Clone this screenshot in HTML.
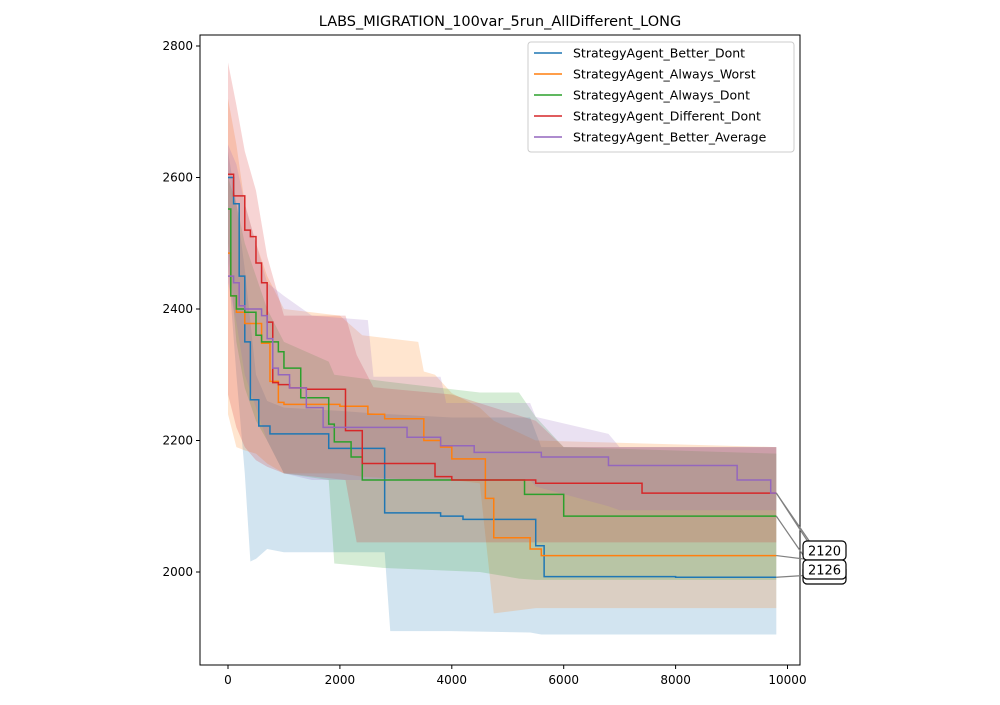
<!DOCTYPE html>
<html><head><meta charset="utf-8"><style>
body{margin:0;background:#fff}
svg text{font-family:"DejaVu Sans","Liberation Sans",sans-serif}
</style></head><body>
<svg id="c" width="1000" height="700" xmlns="http://www.w3.org/2000/svg"></svg>
<script>
const seriesNames=["StrategyAgent_Better_Dont","StrategyAgent_Always_Worst","StrategyAgent_Always_Dont","StrategyAgent_Different_Dont","StrategyAgent_Better_Average"];
const colors=["#1f77b4","#ff7f0e","#2ca02c","#d62728","#9467bd"];
const blueX=[0,100,200,300,400,550,750,1800,2800,3800,4200,5500,5650,8000,9800];
const blueY=[2600,2560,2450,2350,2262,2222,2210,2188,2090,2085,2080,2040,1993,1992,1992];
const orangeX=[0,50,150,300,600,750,900,1000,2000,2500,2800,3500,3800,4000,4600,4750,5400,5600,9800];
const orangeY=[2485,2420,2395,2378,2348,2290,2258,2255,2252,2240,2233,2200,2190,2172,2112,2052,2035,2025,2025];
const greenX=[0,50,150,300,500,600,900,1000,1300,1800,1900,2200,2400,5300,6000,9800];
const greenY=[2552,2420,2400,2395,2360,2350,2335,2310,2265,2225,2198,2175,2140,2118,2085,2085];
const redX=[0,100,300,400,500,600,700,800,900,1100,1400,2100,2400,3700,4000,5500,7400,9800];
const redY=[2605,2572,2520,2510,2470,2440,2380,2288,2285,2280,2278,2215,2165,2145,2140,2135,2120,2120];
const purpleX=[0,100,200,300,600,700,800,900,1100,1400,1700,3200,3800,4400,5600,6800,9100,9700,9800];
const purpleY=[2450,2440,2405,2400,2390,2355,2310,2300,2280,2250,2220,2205,2192,2182,2175,2162,2140,2120,2120];
const blueBandX=[0,150,300,400,500,700,1000,2000,2800,2900,4000,5400,5600,9800];
const blueUp=[2640,2560,2460,2380,2300,2260,2250,2245,2240,2240,2235,2235,2190,2190];
const blueLo=[2470,2300,2150,2016,2020,2035,2030,2030,2030,1910,1910,1908,1905,1905];
const orangeBandX=[0,150,300,500,700,1000,2000,2400,3400,3500,3700,4000,4500,4750,5500,9800];
const orangeUp=[2720,2650,2560,2500,2450,2400,2390,2360,2350,2305,2300,2272,2250,2230,2200,2190];
const orangeLo=[2240,2190,2185,2180,2165,2150,2150,2145,2140,2140,2140,2140,2135,1937,1945,1945];
const greenBandX=[0,150,300,500,700,1000,1800,1900,2800,4500,5200,5500,6000,9800];
const greenUp=[2600,2560,2500,2450,2400,2350,2320,2300,2290,2273,2273,2236,2190,2180];
const greenLo=[2500,2350,2280,2230,2200,2150,2140,2013,2006,2000,1990,1988,1988,1988];
const redBandX=[0,150,300,500,700,1000,2100,2300,2600,4000,5500,6000,9800];
const redUp=[2775,2710,2640,2580,2480,2390,2390,2330,2281,2270,2230,2190,2190];
const redLo=[2270,2220,2190,2170,2160,2150,2140,2045,2045,2045,2045,2045,2045];
const purpleBandX=[0,150,300,500,700,1000,1500,2500,2600,3800,3900,5400,5500,6800,7000,9800];
const purpleUp=[2650,2620,2560,2500,2440,2420,2390,2383,2297,2297,2257,2257,2236,2210,2190,2190];
const purpleLo=[2440,2380,2300,2250,2200,2150,2140,2140,2140,2140,2140,2140,2130,2100,2094,2094];
const xTicks=[0,2000,4000,6000,8000,10000];
const yTicks=[2000,2200,2400,2600,2800];
const annotations=["","2120","2126"];

const svg=document.getElementById('c');const NS="http://www.w3.org/2000/svg";
function px(x){return 228+x*0.05595;}
function py(y){return 572-(y-2000)*0.6575;}
function mk(tag,attrs,parent){const e=document.createElementNS(NS,tag);for(const k in attrs)e.setAttribute(k,attrs[k]);(parent||svg).appendChild(e);return e;}
function stepPts(X,Y){let p=[];for(let i=0;i<X.length;i++){if(i>0)p.push([px(X[i]),py(Y[i-1])]);p.push([px(X[i]),py(Y[i])]);}return p;}
function linPts(X,Y){return X.map((x,i)=>[px(x),py(Y[i])]);}
const lines=[[blueX,blueY],[orangeX,orangeY],[greenX,greenY],[redX,redY],[purpleX,purpleY]];
const bands=[[blueBandX,blueUp,blueLo],[orangeBandX,orangeUp,orangeLo],[greenBandX,greenUp,greenLo],[redBandX,redUp,redLo],[purpleBandX,purpleUp,purpleLo]];
bands.forEach((b,i)=>{
 const up=linPts(b[0],b[1]),lo=linPts(b[0],b[2]).reverse();
 const el=mk('polygon',{points:up.concat(lo).map(p=>p.join(',')).join(' '),fill:colors[i],'fill-opacity':0.2});
 
 
});
lines.forEach((l,i)=>{
 const el=mk('polyline',{points:stepPts(l[0],l[1]).map(p=>p.join(',')).join(' '),fill:'none',stroke:colors[i],'stroke-width':1.5});
 
 
});
const fr=mk('rect',{x:200,y:35,width:600,height:630,fill:'none',stroke:'#000','stroke-width':1});


xTicks.forEach(t=>{const x=px(t);mk('line',{x1:x,x2:x,y1:665,y2:669,stroke:'#000'});
 const tx=mk('text',{x:x,y:684,'text-anchor':'middle','font-size':12});tx.textContent=t;
 
 });
yTicks.forEach(t=>{const y=py(t);mk('line',{x1:196,x2:200,y1:y,y2:y,stroke:'#000'});
 const tx=mk('text',{x:193,y:y+4,'text-anchor':'end','font-size':12});tx.textContent=t;
 
 });
const title=mk('text',{x:500,y:26,'text-anchor':'middle','font-size':14.5});title.textContent="LABS_MIGRATION_100var_5run_AllDifferent_LONG";


lines.forEach((l,i)=>{const last=l[1][l[1].length-1];const ty=[575,560,568,548,545][i];
 mk('line',{x1:px(9800),y1:py(last),x2:812,y2:ty,stroke:'#808080','stroke-width':1.2});});
annotations.forEach((a,i)=>{
 const g=mk('g',{});
 
 
 const y=[565,541,560][i];
 mk('rect',{x:803,y:y,width:43,height:19,rx:4,fill:'#fff',stroke:'#000','stroke-width':1.2},g);
 if(a){const t=mk('text',{x:824.5,y:y+14.5,'text-anchor':'middle','font-size':13},g);t.textContent=a;}
});
const lg=mk('g',{});


mk('rect',{x:528,y:42,width:266,height:110,rx:3,fill:'#fff','fill-opacity':0.8,stroke:'#ccc'},lg);
seriesNames.forEach((n,i)=>{const y=53+i*21;
 const e=mk('g',{},lg);
 
 
 mk('line',{x1:534,x2:562,y1:y,y2:y,stroke:colors[i],'stroke-width':1.6},e);
 const t=mk('text',{x:573,y:y+4.5,'font-size':12.5},e);t.textContent=n;});
</script>
</body></html>
